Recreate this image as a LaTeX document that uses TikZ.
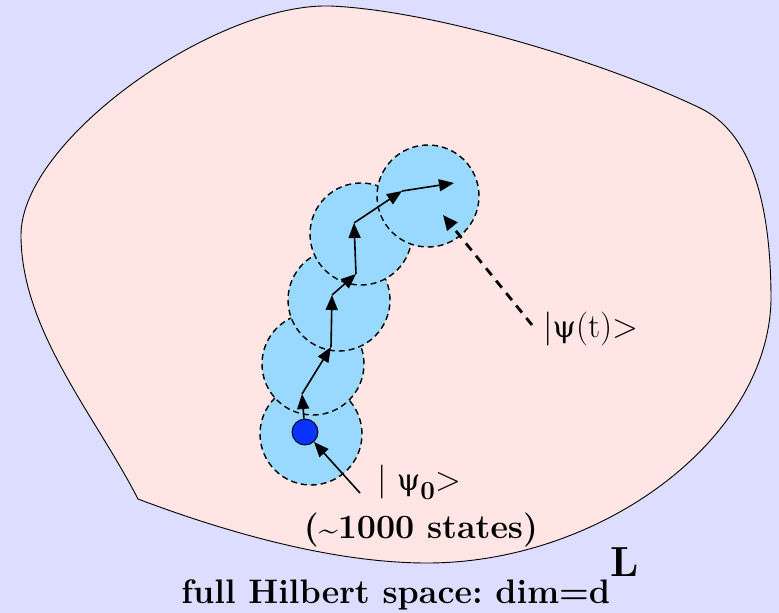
\documentclass[tikz,border=0pt]{standalone}
\usepackage{fontspec}
\newfontfamily\greekfont{DejaVu Serif}[Scale=0.88]
\usepackage{xcolor}
\usetikzlibrary{arrows.meta}

\definecolor{pagebg}{RGB}{221,221,255}
\definecolor{spacefill}{RGB}{255,230,228}
\definecolor{ballfill}{RGB}{153,217,255}
\definecolor{dotfill}{RGB}{10,50,255}

\newcommand{\psisym}{{\greekfont ψ}}

\begin{document}
\frenchspacing
\begin{tikzpicture}[
    x=1pt,
    y=-1pt,
    every node/.style={font=\fontsize{34}{40}\selectfont},
    ball/.style={circle, draw, dash pattern=on 6pt off 4pt, line width=1.4pt,
      fill=ballfill, minimum size=102pt, inner sep=0pt},
    startdot/.style={circle, draw, line width=0.9pt, fill=dotfill, minimum size=26pt, inner sep=0pt},
    label/.style={anchor=base west, inner sep=0pt},
    walk/.style={-{Triangle[length=15pt,width=12pt]}, line width=1.6pt},
    pointer/.style={-{Triangle[length=15pt,width=12pt]}, line width=1.6pt},
    dpointer/.style={-{Triangle[length=15pt,width=13pt]}, line width=2.8pt,
      dash pattern=on 9pt off 7pt}
]
\useasboundingbox (0,0) rectangle (779,613);
\fill[pagebg] (0,0) rectangle (779,613);

% the full space
\draw[fill=spacefill, line width=0.9pt] (138,499)
  .. controls (95,415) and (21,330) .. (21,235)
  .. controls (21,140) and (215,3) .. (330,6)
  .. controls (430,10) and (600,60) .. (700,108)
  .. controls (750,132) and (771,200) .. (771,300)
  .. controls (768,440) and (600,563) .. (427,563)
  .. controls (330,563) and (220,530) .. cycle;

% neighbourhoods along the path
\node[ball] (b1) at (311,434) {};
\node[ball] (b2) at (313,364) {};
\node[ball] (b3) at (339,300) {};
\node[ball] (b4) at (361,234) {};
\node[ball] (b5) at (428,196) {};

\node[startdot] (psi0) at (305,432) {};

\coordinate (p1) at (302,394);
\coordinate (p2) at (331,347);
\coordinate (p3) at (332,295);
\coordinate (p4) at (356,274);
\coordinate (p5) at (354,223);
\coordinate (p6) at (402,191);
\coordinate (p7) at (454,183);

\foreach \a/\b in {psi0/p1,p1/p2,p2/p3,p3/p4,p4/p5,p5/p6,p6/p7}
  \draw[walk] (\a) -- (\b);

\node[label] (psitlbl) at (543,337) {|\psisym(t)>};
\node[label] (psi0lbl) at (377,490)
  {| \psisym\raisebox{-9pt}{\fontsize{26}{26}\selectfont\bfseries 0}>};
\node[anchor=base, inner sep=0pt] (stateslbl) at (421,538)
  {\bfseries (\raisebox{-2pt}{\textasciitilde}1000 states)};
\node[anchor=base, inner sep=0pt] (titlelbl) at (410,603)
  {\bfseries full Hilbert space: dim=d\raisebox{27pt}{\fontsize{42}{42}\selectfont L}};

\coordinate (psitfoot) at (532,325);
\coordinate (psittip) at (443,215);
\coordinate (psi0foot) at (360,493);

\draw[dpointer] (psitfoot) -- (psittip);
\draw[pointer] (psi0foot) -- (psi0);
\end{tikzpicture}
\end{document}
